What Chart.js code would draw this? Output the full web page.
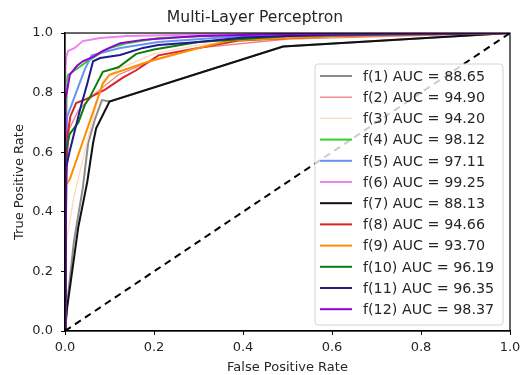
<!DOCTYPE html>
<html>
<head>
<meta charset="utf-8">
<script src="https://cdn.jsdelivr.net/npm/chart.js@4.4.0/dist/chart.umd.min.js"></script>
<style>
  html, body { margin: 0; padding: 0; background: #fff; }
</style>
</head>
<body>
<canvas id="roc" width="526" height="375"></canvas>
<script>
// ROC points (false positive rate / true positive rate)
const f1Fpr = [0, 0.004, 0.02, 0.04, 0.052, 0.067, 0.083, 0.1, 0.49, 1];
const f1Tpr = [0, 0.08, 0.3, 0.48, 0.63, 0.71, 0.775, 0.77, 0.955, 1];
const f2Fpr = [0, 0.003, 0.01, 0.03, 0.07, 0.12, 0.2, 0.3, 0.5, 1];
const f2Tpr = [0, 0.55, 0.68, 0.74, 0.8, 0.86, 0.91, 0.95, 0.98, 1];
const f3Fpr = [0, 0.003, 0.02, 0.06, 0.085, 0.12, 0.2, 0.3, 0.5, 1];
const f3Tpr = [0, 0.3, 0.45, 0.7, 0.84, 0.88, 0.93, 0.96, 0.985, 1];
const f4Fpr = [0, 0.002, 0.004, 0.007, 0.027, 0.05, 0.072, 0.1, 0.14, 0.21, 0.4, 1];
const f4Tpr = [0, 0.6, 0.84, 0.86, 0.88, 0.905, 0.926, 0.95, 0.966, 0.983, 0.995, 1];
const f5Fpr = [0, 0.002, 0.005, 0.02, 0.035, 0.045, 0.06, 0.124, 0.21, 0.4, 1];
const f5Tpr = [0, 0.6, 0.72, 0.78, 0.84, 0.88, 0.925, 0.95, 0.97, 0.99, 1];
const f6Fpr = [0, 0.001, 0.003, 0.007, 0.022, 0.04, 0.079, 0.14, 0.3, 1];
const f6Tpr = [0, 0.88, 0.92, 0.94, 0.95, 0.973, 0.983, 0.99, 0.995, 1];
const f7Fpr = [0, 0.005, 0.03, 0.05, 0.063, 0.07, 0.09, 0.1, 0.49, 1];
const f7Tpr = [0, 0.08, 0.35, 0.5, 0.63, 0.68, 0.74, 0.77, 0.955, 1];
const f8Fpr = [0, 0.003, 0.006, 0.012, 0.025, 0.05, 0.09, 0.13, 0.16, 0.21, 0.3, 0.39, 0.6, 1];
const f8Tpr = [0, 0.5, 0.66, 0.72, 0.765, 0.78, 0.81, 0.85, 0.875, 0.925, 0.95, 0.975, 0.99, 1];
const f9Fpr = [0, 0.002, 0.011, 0.085, 0.1, 0.19, 0.3, 0.37, 0.6, 1];
const f9Tpr = [0, 0.49, 0.51, 0.83, 0.86, 0.905, 0.95, 0.975, 0.99, 1];
const f10Fpr = [0, 0.002, 0.01, 0.03, 0.045, 0.056, 0.085, 0.12, 0.16, 0.2, 0.3, 0.5, 1];
const f10Tpr = [0, 0.6, 0.66, 0.7, 0.76, 0.785, 0.87, 0.885, 0.93, 0.945, 0.97, 0.99, 1];
const f11Fpr = [0, 0.003, 0.01, 0.02, 0.035, 0.05, 0.063, 0.079, 0.124, 0.175, 0.21, 0.3, 0.4, 0.6, 1];
const f11Tpr = [0, 0.55, 0.6, 0.66, 0.75, 0.83, 0.905, 0.916, 0.926, 0.95, 0.96, 0.97, 0.985, 0.995, 1];
const f12Fpr = [0, 0.001, 0.004, 0.011, 0.027, 0.04, 0.063, 0.085, 0.124, 0.175, 0.3, 0.5, 1];
const f12Tpr = [0, 0.78, 0.8, 0.86, 0.89, 0.905, 0.92, 0.94, 0.966, 0.977, 0.99, 0.997, 1];

const aucScores = [88.65, 94.90, 94.20, 98.12, 97.11, 99.25, 88.13, 94.66, 93.70, 96.19, 96.35, 98.37];
const curveNames = ['f(1)', 'f(2)', 'f(3)', 'f(4)', 'f(5)', 'f(6)', 'f(7)', 'f(8)', 'f(9)', 'f(10)', 'f(11)', 'f(12)'];
const chanceFpr = [0, 1];
const chanceTpr = [0, 1];
const axisTicks = [0, 0.2, 0.4, 0.6, 0.8, 1.0];

const fprList = [f1Fpr, f2Fpr, f3Fpr, f4Fpr, f5Fpr, f6Fpr, f7Fpr, f8Fpr, f9Fpr, f10Fpr, f11Fpr, f12Fpr];
const tprList = [f1Tpr, f2Tpr, f3Tpr, f4Tpr, f5Tpr, f6Tpr, f7Tpr, f8Tpr, f9Tpr, f10Tpr, f11Tpr, f12Tpr];
const colors = ['#8c8c8c', '#f08080', '#ffdab9', '#32cd32', '#6495ed', '#ee82ee',
                '#111111', '#d62728', '#ff8c00', '#107a10', '#1c1c8c', '#9400d3'];
const widths = [2, 1.3, 1.3, 2, 2, 2, 2, 2, 2, 2, 2, 2];

const FONT = 'DejaVu Sans';
const TEXT = '#262626';

const zip = (xs, ys) => xs.map((x, i) => ({ x: x, y: ys[i] }));

const datasets = curveNames.map((name, i) => ({
  label: name + ' AUC = ' + aucScores[i].toFixed(2),
  data: zip(fprList[i], tprList[i]),
  borderColor: colors[i],
  borderWidth: widths[i],
  pointRadius: 0,
  tension: 0,
  fill: false,
  clip: 0,
  order: 12 - i,
}));

datasets.push({
  label: '',
  data: zip(chanceFpr, chanceTpr),
  borderColor: '#000',
  borderWidth: 2,
  borderDash: [7, 5],
  pointRadius: 0,
  fill: false,
  clip: 0,
  order: 0,
});

// frame on all four sides plus a matplotlib-like legend box inside the axes
const framePlugin = {
  id: 'frame',
  afterDatasetsDraw(chart) {
    const { ctx, chartArea: a } = chart;
    ctx.save();
    ctx.strokeStyle = '#000';
    ctx.lineWidth = 1.2;
    ctx.strokeRect(a.left, a.top, a.right - a.left, a.bottom - a.top);
    ctx.restore();
  },
  afterDraw(chart) {
    const ctx = chart.ctx;
    const items = chart.data.datasets.filter(d => d.label);
    const bx = 315, by = 64, bw = 188, bh = 261;
    ctx.save();
    ctx.beginPath();
    ctx.roundRect(bx, by, bw, bh, 3);
    ctx.fillStyle = 'rgba(255,255,255,0.8)';
    ctx.fill();
    ctx.strokeStyle = '#d4d4d4';
    ctx.lineWidth = 1;
    ctx.stroke();
    ctx.font = '14.3px "' + FONT + '"';
    ctx.textBaseline = 'middle';
    ctx.fillStyle = TEXT;
    items.forEach((d, i) => {
      const y = 76 + i * 21.2;
      ctx.beginPath();
      ctx.moveTo(320, y);
      ctx.lineTo(352, y);
      ctx.strokeStyle = d.borderColor;
      ctx.lineWidth = d.borderWidth;
      ctx.stroke();
      ctx.fillText(d.label, 363, y + 1);
    });
    ctx.restore();
  }
};

new Chart(document.getElementById('roc'), {
  type: 'line',
  data: { datasets: datasets },
  options: {
    responsive: false,
    animation: false,
    layout: { padding: { left: 0, right: 16, top: 0, bottom: 0 } },
    plugins: {
      legend: { display: false },
      tooltip: { enabled: false },
      title: {
        display: true,
        text: 'Multi-Layer Perceptron',
        color: TEXT,
        font: { family: FONT, size: 15.6, weight: 'normal' },
        padding: { top: 9, bottom: 5.3 },
      },
    },
    scales: {
      x: {
        type: 'linear',
        min: 0,
        max: 1,
        afterBuildTicks: s => { s.ticks = axisTicks.map(v => ({ value: v })); },
        afterFit: s => { s.height = 44; s.paddingLeft = 0; s.paddingRight = 0; },
        ticks: {
          color: TEXT,
          font: { family: FONT, size: 13 },
          padding: 5,
          maxRotation: 0,
          callback: v => Number(v).toFixed(1),
        },
        grid: { drawOnChartArea: false, color: '#000', tickLength: 4, lineWidth: 1 },
        border: { display: true, color: '#000', width: 1.2 },
        title: {
          display: true,
          text: 'False Positive Rate',
          color: TEXT,
          font: { family: FONT, size: 13 },
          padding: { top: 0, bottom: 0 },
        },
      },
      y: {
        type: 'linear',
        min: 0,
        max: 1,
        afterBuildTicks: s => { s.ticks = axisTicks.map(v => ({ value: v })); },
        afterFit: s => { s.width = 65; s.paddingTop = 0; s.paddingBottom = 0; },
        ticks: {
          color: TEXT,
          font: { family: FONT, size: 13 },
          padding: 8,
          callback: v => Number(v).toFixed(1),
        },
        grid: { drawOnChartArea: false, color: '#000', tickLength: 4, lineWidth: 1 },
        border: { display: true, color: '#000', width: 1.2 },
        title: {
          display: true,
          text: 'True Positive Rate',
          color: TEXT,
          font: { family: FONT, size: 13 },
          padding: { top: 12, bottom: 0 },
        },
      },
    },
  },
  plugins: [framePlugin],
});
</script>
</body>
</html>
